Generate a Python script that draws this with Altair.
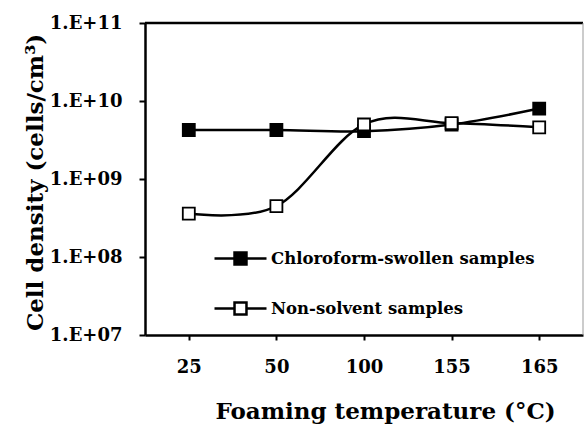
import altair as alt
import pandas as pd

temps = ["25", "50", "100", "155", "165"]
chloroform = [4.25e9, 4.25e9, 4.1e9, 5.0e9, 8.0e9]
nonsolvent = [3.6e8, 4.5e8, 5.0e9, 5.2e9, 4.6e9]
series_names = ["Chloroform-swollen samples", "Non-solvent samples"]
y_ticks = [1e7, 1e8, 1e9, 1e10, 1e11]

rows = []
for t, c, n in zip(temps, chloroform, nonsolvent):
    rows.append({"temp": t, "density": c, "series": series_names[0]})
    rows.append({"temp": t, "density": n, "series": series_names[1]})
df = pd.DataFrame(rows)

W, H = 438, 312
FONT = "DejaVu Serif"

x = alt.X(
    "temp:O", sort=temps,
    scale=alt.Scale(type="point", padding=0.5),
    axis=alt.Axis(
        title="Foaming temperature (°C)", titleFont=FONT, titleFontSize=23,
        titleFontWeight="bold", titleColor="black", titleX=240, titleY=83,
        titleBaseline="alphabetic",
        labelAngle=0, labelFont=FONT, labelFontSize=18, labelFontWeight="bold",
        labelColor="black", labelPadding=18,
        tickSize=5, tickWidth=2, tickColor="black",
        domainColor="black", domainWidth=2.5, grid=False,
    ),
)
y = alt.Y(
    "density:Q",
    scale=alt.Scale(type="log", domain=[1e7, 1e11], nice=False),
    axis=alt.Axis(
        title="Cell density (cells/cm³)", titleFont=FONT, titleFontSize=23,
        titleFontWeight="bold", titleColor="black", titleAngle=270,
        titleX=-103, titleY=159, titleBaseline="alphabetic",
        values=y_ticks,
        labelExpr="'1.E+' + format(round(log(datum.value)/LN10), '02d')",
        labelFont=FONT, labelFontSize=18, labelFontWeight="bold",
        labelColor="black", labelPadding=17,
        tickSize=6, tickWidth=2, tickColor="black",
        domainColor="black", domainWidth=2.5, grid=False,
    ),
)

lines = alt.Chart(df).mark_line(
    interpolate="cardinal", color="black", strokeWidth=2.5
).encode(x=x, y=y, detail="series:N")

points = alt.Chart(df).mark_point(
    shape="square", filled=True, size=144, stroke="black", strokeWidth=1.8, opacity=1
).encode(
    x=x, y=y,
    fill=alt.Fill(
        "series:N",
        scale=alt.Scale(domain=series_names, range=["black", "white"]),
        legend=alt.Legend(
            title=None, orient="none", legendX=68, legendY=221,
            symbolType="M-2,0H-0.46M0.46,0H2M-0.46,-0.46H0.46V0.46H-0.46Z",
            symbolSize=676, symbolStrokeColor="black", symbolStrokeWidth=2.5,
            symbolOffset=13, labelOffset=16, rowPadding=24,
            labelFont=FONT, labelFontSize=16.5, labelFontWeight="bold",
            labelColor="black", labelLimit=400, padding=0,
        ),
    ),
)

border_df = pd.DataFrame({"k": [0]})
top_rule = alt.Chart(border_df).mark_rule(color="black", strokeWidth=2.5).encode(
    x=alt.value(0), x2=alt.value(W), y=alt.value(0)
)
right_rule = alt.Chart(border_df).mark_rule(color="#999999", strokeWidth=1).encode(
    x=alt.value(W), y=alt.value(0), y2=alt.value(H)
)

chart = alt.layer(lines, points, top_rule, right_rule).properties(
    width=W, height=H,
    autosize=alt.AutoSizeParams(type="none"),
    padding={"left": 145, "top": 23, "right": 1, "bottom": 89},
    background="white",
).configure_view(stroke=None)

chart.save("out.html", embed_options={"renderer": "svg", "actions": False})
